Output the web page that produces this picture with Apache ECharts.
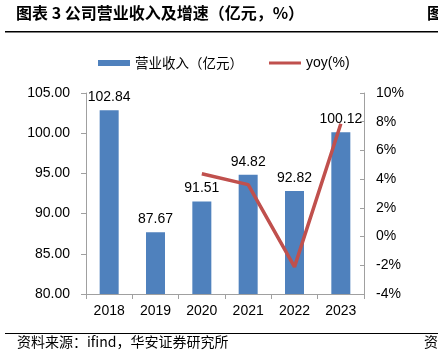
<!DOCTYPE html>
<html><head><meta charset="utf-8">
<script src="https://cdn.jsdelivr.net/npm/echarts@6/dist/echarts.min.js"></script>
<style>html,body{margin:0;padding:0;background:#fff}#c{width:438px;height:359px}</style>
</head><body><div id="c"></div>
<script>
var categories = ['2018','2019','2020','2021','2022','2023'];
var revenue = [102.84, 87.67, 91.51, 94.82, 92.82, 100.12];
var yoy = [null, null, 4.38, 3.62, -2.11, 7.86];
var leftTicks = {min: 80, max: 105, interval: 5};
var rightTicks = {min: -4, max: 10, interval: 2};
var titleText = '图表 3 公司营业收入及增速（亿元，%）';
var sourceText = '资料来源：ifind，华安证券研究所';

var chart = echarts.init(document.getElementById('c'), null, {renderer: 'canvas'});
var sans = 'Liberation Sans, Arial, sans-serif';
var cjk = 'Noto Sans CJK SC';
chart.setOption({
  animation: false,
  backgroundColor: '#fff',
  grid: {left: 86, right: 74, top: 93, bottom: 65},
  legend: {
    left: 93, top: 51, itemWidth: 32, itemHeight: 6, itemGap: 26,
    textStyle: {fontSize: 13.5, color: '#000', fontFamily: cjk},
    data: [
      {name: '营业收入（亿元）', icon: 'rect'},
      {name: 'yoy(%)', icon: 'path://M0,0 L32,0 L32,3 L0,3 Z', textStyle: {fontFamily: sans, fontSize: 14}, itemStyle: {color: '#C0504D'}}
    ]
  },
  xAxis: {
    type: 'category', data: categories,
    axisLine: {onZero: false, lineStyle: {color: '#A0A0A0'}},
    axisTick: {show: true, length: 5, lineStyle: {color: '#A0A0A0'}},
    axisLabel: {fontSize: 14, color: '#000', fontFamily: sans, margin: 10}
  },
  yAxis: [
    {type: 'value', min: leftTicks.min, max: leftTicks.max, interval: leftTicks.interval,
     splitLine: {show: false},
     axisLine: {show: true, lineStyle: {color: '#A0A0A0'}},
     axisTick: {show: true, length: 5, lineStyle: {color: '#A0A0A0'}},
     axisLabel: {fontSize: 14, color: '#000', fontFamily: sans, margin: 16,
       formatter: function(v){return v.toFixed(2);}}},
    {type: 'value', min: rightTicks.min, max: rightTicks.max, interval: rightTicks.interval,
     position: 'right', splitLine: {show: false},
     axisLine: {show: true, lineStyle: {color: '#A0A0A0'}},
     axisTick: {show: true, inside: true, length: 4, lineStyle: {color: '#A0A0A0'}},
     axisLabel: {fontSize: 14, color: '#000', fontFamily: sans, margin: 12,
       formatter: function(v){return v + '%';}}}
  ],
  series: [
    {name: '营业收入（亿元）', type: 'bar', data: revenue, barWidth: 19,
     itemStyle: {color: '#4F81BD'},
     label: {show: true, position: 'top', fontSize: 14, color: '#000', fontFamily: sans, distance: 6,
       formatter: function(p){return p.value.toFixed(2);}}},
    {name: 'yoy(%)', type: 'line', yAxisIndex: 1, data: yoy, showSymbol: false, symbol: 'none',
     connectNulls: false,
     lineStyle: {color: '#C0504D', width: 3.5}, itemStyle: {color: '#C0504D'}}
  ],
  graphic: [
    {type: 'text', left: 16, top: 5, style: {text: titleText, font: 'bold 16px "Noto Sans CJK SC"', fill: '#000'}},
    {type: 'text', left: 427, top: 5, style: {text: '图', font: 'bold 16px "Noto Sans CJK SC"', fill: '#000'}},
    {type: 'rect', shape: {x: 5, y: 31, width: 433, height: 1.5}, style: {fill: '#000'}},
    {type: 'rect', shape: {x: 5, y: 333, width: 433, height: 1}, style: {fill: '#000'}},
    {type: 'text', left: 17, top: 335, style: {text: sourceText, font: '14px "Noto Sans CJK SC"', fill: '#000'}},
    {type: 'text', left: 424, top: 335, style: {text: '资', font: '14px "Noto Sans CJK SC"', fill: '#000'}}
  ]
});
</script></body></html>
